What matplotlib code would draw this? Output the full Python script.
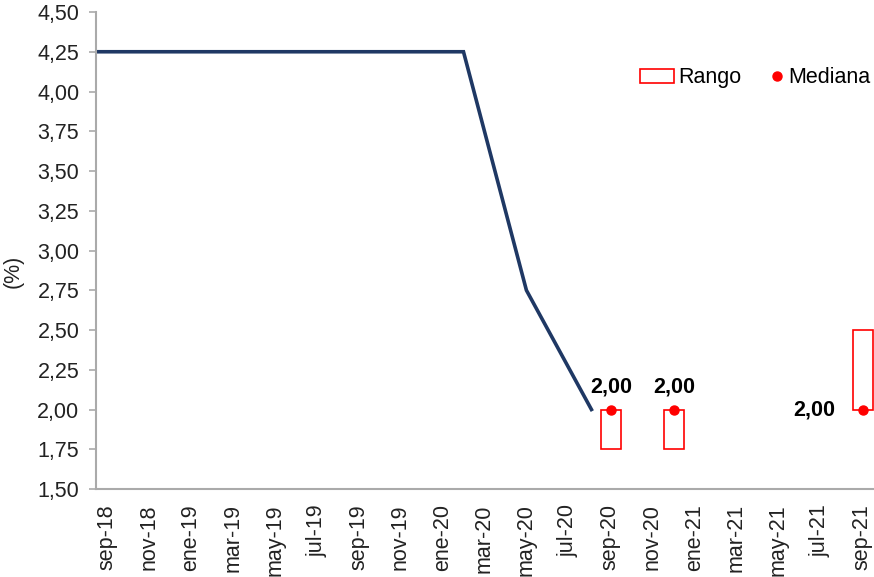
import matplotlib
matplotlib.use('Agg')
import matplotlib.pyplot as plt
from matplotlib.patches import Patch
from matplotlib.lines import Line2D

plt.rcParams['font.family'] = ['Liberation Sans', 'DejaVu Sans']

# Meses (eje x), desde ago-18 hasta sep-21
abrev = ['ene', 'feb', 'mar', 'abr', 'may', 'jun', 'jul', 'ago', 'sep', 'oct', 'nov', 'dic']
meses = []
for anio in [18, 19, 20, 21]:
    for m in abrev:
        meses.append(f'{m}-{anio}')
meses = meses[meses.index('ago-18'):meses.index('sep-21') + 1]
pos = {m: i - 1 for i, m in enumerate(meses)}  # sep-18 = 0

etiquetas_x = ['sep-18', 'nov-18', 'ene-19', 'mar-19', 'may-19', 'jul-19', 'sep-19',
               'nov-19', 'ene-20', 'mar-20', 'may-20', 'jul-20', 'sep-20', 'nov-20',
               'ene-21', 'mar-21', 'may-21', 'jul-21', 'sep-21']

# TPM efectiva
tpm_fechas = ['ago-18', 'feb-20', 'may-20', 'ago-20']
tpm_valores = [4.25, 4.25, 2.75, 2.00]

# Expectativas: rango y mediana
rango_fechas = ['sep-20', 'dic-20', 'sep-21']
rango_min = [1.75, 1.75, 2.00]
rango_max = [2.00, 2.00, 2.50]
mediana = [2.00, 2.00, 2.00]

fig = plt.figure(figsize=(8.74, 5.77), dpi=100)
ax = fig.add_axes([0.1098, 0.1525, 0.8902, 0.8267])

ax.plot([pos[f] + 0.1 if f == 'ago-20' else pos[f] for f in tpm_fechas], tpm_valores,
        color='#1f3864', lw=2.6, solid_joinstyle='miter')

xr = [pos[f] + 0.05 for f in rango_fechas]
ax.bar(xr, [hi - lo for lo, hi in zip(rango_min, rango_max)], bottom=rango_min,
       width=0.95, fill=False, edgecolor='red', linewidth=1.2)
ax.plot(xr, mediana, 'o', color='red', markersize=6.5, zorder=5)

fs = 15.5
for i, (x, y) in enumerate(zip(xr, mediana)):
    txt = f'{y:.2f}'.replace('.', ',')
    if i < 2:
        ax.annotate(txt, (x, y), xytext=(0, 9), textcoords='offset points',
                    ha='center', va='bottom', fontsize=fs, fontweight='bold')
    else:
        ax.annotate(txt, (x, y), xytext=(-20, 0), textcoords='offset points',
                    ha='right', va='center', fontsize=fs, fontweight='bold')

ax.set_xlim(-0.52, 36.57)
ax.set_ylim(1.5, 4.5)
ax.set_yticks([1.5 + 0.25 * k for k in range(13)])
ax.set_yticklabels([f'{1.5 + 0.25 * k:.2f}'.replace('.', ',') for k in range(13)],
                   fontsize=fs, color='#222222')
ax.set_xticks([pos[e] for e in etiquetas_x])
ax.set_xticklabels(etiquetas_x, rotation=90, fontsize=fs, color='#222222')
ax.tick_params(axis='x', length=0, pad=11)
ax.tick_params(axis='y', length=5, color='#aaaaaa', width=1.2, pad=7)

for s in ['top', 'right']:
    ax.spines[s].set_visible(False)
for s in ['left', 'bottom']:
    ax.spines[s].set_color('#aaaaaa')
    ax.spines[s].set_linewidth(1.5)

ax.set_ylabel('(%)', fontsize=fs, color='#222222')
ax.yaxis.set_label_coords(-0.0925, 0.457)

# Leyenda en dos partes para controlar separaciones
leg1 = ax.legend([Patch(facecolor='none', edgecolor='red', linewidth=1.2)], ['Rango'],
                 loc='center left', bbox_to_anchor=(0.699, 0.862), frameon=False,
                 fontsize=fs, handlelength=1.6, handleheight=0.6, handletextpad=0.2,
                 borderpad=0, borderaxespad=0)
ax.add_artist(leg1)
ax.legend([Line2D([], [], marker='o', color='red', linestyle='none', markersize=6.5)],
          ['Mediana'], loc='center left', bbox_to_anchor=(0.869, 0.862), frameon=False,
          fontsize=fs, handlelength=0.5, handletextpad=0.25, borderpad=0, borderaxespad=0)

fig.savefig('out.png', dpi=100)
